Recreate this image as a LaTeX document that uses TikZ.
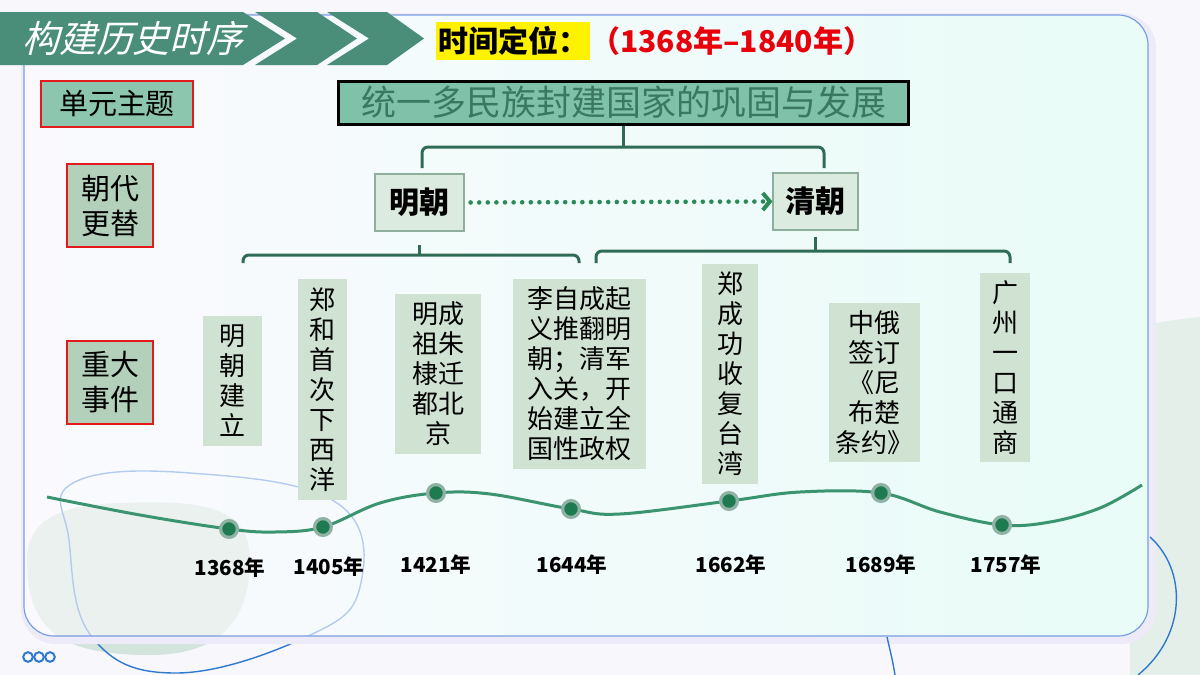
\documentclass[tikz,border=0pt]{standalone}
\usepackage{fontspec}
\setmainfont{Noto Sans CJK SC}
\newfontfamily\cjkslant[FakeSlant=0.25]{Noto Sans CJK SC}
\usetikzlibrary{arrows.meta}
\definecolor{pagebg}{HTML}{F8F8FC}
\definecolor{rightgreen}{HTML}{E4EFEA}
\definecolor{blobgreen}{HTML}{D2E4DC}
\definecolor{blobin}{HTML}{EBF1EF}
\definecolor{bannerg}{HTML}{4A8E79}
\definecolor{mainfill}{HTML}{80C2A9}
\definecolor{maintext}{HTML}{3A7862}
\definecolor{topfill}{HTML}{8CC6AE}
\definecolor{sidefill}{HTML}{B3D1BA}
\definecolor{redc}{HTML}{E3191B}
\definecolor{dynfill}{HTML}{DCEBE0}
\definecolor{dynborder}{HTML}{8FAF9C}
\definecolor{evfill}{HTML}{D0E2D1}
\definecolor{bracketc}{HTML}{2F6B55}
\definecolor{linec}{HTML}{3A9470}
\definecolor{dotc}{HTML}{1E7A50}
\definecolor{haloc}{HTML}{8FB2A4}
\definecolor{arrowc}{HTML}{2A8A58}
\definecolor{datered}{HTML}{E8000B}
\definecolor{panelborder}{HTML}{7A9EE2}
\definecolor{blueline}{HTML}{2F78D0}
\definecolor{bluelight}{HTML}{B5CBEE}
\definecolor{panelleft}{HTML}{FAFAFE}
\definecolor{panelright}{HTML}{E8FCF7}
\definecolor{shadowc}{HTML}{EEEBF8}
\begin{document}
\begin{tikzpicture}[x=0.5pt,y=-0.5pt,
 evbox/.style={fill=evfill, inner sep=0pt, align=center, font=\fontsize{13}{15}\selectfont},
 sidebox/.style={fill=sidefill, draw=redc, line width=0.9pt, inner sep=0pt, align=center,
   font=\fontsize{14.5}{17.5}\selectfont, minimum width=43pt, minimum height=41.5pt},
 dynbox/.style={fill=dynfill, draw=dynborder, line width=0.6pt, inner sep=0pt,
   font=\bfseries\fontsize{15}{18}\selectfont},
 bracket/.style={draw=bracketc, line width=1.5pt, rounded corners=3pt},
 tdot/.style={circle, fill=dotc, draw=haloc, line width=1.6pt, minimum size=8.4pt, inner sep=0pt},
 yearlbl/.style={font=\bfseries\fontsize{10.3}{12}\selectfont, inner sep=0pt},
 deco/.style={draw=blueline, line width=0.7pt},
 chevron/.style={fill=bannerg}
]
\useasboundingbox (0,0) rectangle (1200,675);
% page background
\fill[pagebg] (0,0) rectangle (1200,675);
\fill[rightgreen] (1130,328) .. controls (1160,322) and (1185,318) .. (1200,317) -- (1200,675) -- (1130,675) -- cycle;
% bottom-left blob and blue loop (outside parts)
\def\blobpath{(27,560) .. controls (27,520) and (60,505) .. (120,503)
  .. controls (200,500) and (250,505) .. (250,560)
  .. controls (250,620) and (220,655) .. (150,655)
  .. controls (60,655) and (27,630) .. (27,560) -- cycle}
\fill[blobgreen] \blobpath;
\def\looppath{plot[smooth cycle, tension=0.7] coordinates
  {(73,483) (190,473) (337,503) (360,587) (306,637) (176,673) (92,637) (69,540)}}
\draw[deco] \looppath;
% panel shadow
\draw[shadowc, line width=5pt, rounded corners=15pt] (26,18) rectangle (1151,639);
% panel (strips for horizontal gradient)
\begin{scope}
\clip[rounded corners=15pt] (24,15) rectangle (1148,636);
\foreach \i in {0,...,28} {
  \pgfmathtruncatemacro{\pc}{min(100,round(\i/28*100))}
  \fill[panelright!\pc!panelleft] (24+\i*40,15) rectangle (24+\i*40+41,636);
}
\fill[blobin] \blobpath;
\draw[bluelight, line width=0.7pt] \looppath;
\end{scope}
\draw[panelborder, line width=0.6pt, rounded corners=15pt] (24,15) rectangle (1148,636);
% decorative blue curves (right, bottom)
\draw[deco] (1150,537) .. controls (1187,570) and (1187,635) .. (1138,675);
\draw[deco] (887,637) .. controls (890,650) and (893,662) .. (895,675);
% three small circles
\foreach \cx in {28,39,50} \draw[blueline, line width=1pt] (\cx,657) circle (2.4pt);

% banner
\fill[chevron] (0,12) -- (243,12) -- (285,38.5) -- (243,65) -- (0,65) -- cycle;
\fill[chevron] (255,12) -- (317,12) -- (357,38.5) -- (317,65) -- (255,65) -- (297,38.5) -- cycle;
\fill[chevron] (327,12) -- (387,12) -- (424,38.5) -- (387,65) -- (327,65) -- (369,38.5) -- cycle;
\node[text=white, font=\cjkslant\fontsize{18.5}{20}\selectfont, inner sep=0pt] (title) at (133,38) {构建历史时序};

% time positioning
\node[fill=yellow, anchor=west, inner xsep=1pt, inner ysep=2pt, font=\bfseries\fontsize{15}{18}\selectfont] (tlabel) at (436,41) {时间定位：};
\node[anchor=west, text=datered, inner sep=0pt, font=\bfseries\fontsize{15}{18}\selectfont] (trange) at (590,41) {（1368年–1840年）};

% side labels
\node[fill=topfill, draw=redc, line width=0.9pt, minimum width=76pt, minimum height=23pt, inner sep=0pt,
  font=\fontsize{14.5}{17}\selectfont] (unit) at (117,104) {单元主题};
\node[sidebox] (dyn) at (110,205.5) {朝代\\更替};
\node[sidebox] (evt) at (110,382.5) {重大\\事件};

% theme
\node[draw=black, line width=1.5pt, fill=mainfill, minimum width=285pt, minimum height=21.5pt, inner sep=0pt,
  text=maintext, font=\fontsize{17.5}{20}\selectfont] (theme) at (623.5,102.5) {统一多民族封建国家的巩固与发展};

% dynasties
\node[dynbox, minimum width=44.5pt, minimum height=28.5pt] (ming) at (419.5,202.5) {明朝};
\node[dynbox, minimum width=42.5pt, minimum height=28.5pt] (qing) at (815.5,201.5) {清朝};
\draw[arrowc, line width=2.3pt, line cap=round, dash pattern=on 0pt off 4.3pt,
  -{Straight Barb[length=3.5pt, width=8.5pt, line width=2pt]}, shorten <=3pt] (ming.east) -- (qing.west);

% brackets from theme
\coordinate (tb1) at (422,168);
\coordinate (tb2) at (824,168);
\draw[bracket] (tb1) |- (tb2 |- 0,147) -- (tb2);
\draw[bracket] (theme.south) -- (theme.south |- 0,147);

% event boxes
\node[evbox, minimum width=29.5pt, minimum height=65pt] (e1) at (232.5,381) {明\\朝\\建\\立};
\node[evbox, minimum width=24.5pt, minimum height=110.5pt] (e2) at (322.5,389.5) {郑\\和\\首\\次\\下\\西\\洋};
\node[evbox, minimum width=43pt, minimum height=80pt] (e3) at (438,374) {明成\\祖朱\\棣迁\\都北\\京};
\node[evbox, minimum width=66.5pt, minimum height=95pt] (e4) at (579.5,374) {李自成起\\义推翻明\\朝；清军\\入关，开\\始建立全\\国性政权};
\node[evbox, minimum width=28pt, minimum height=110pt] (e5) at (730,374) {郑\\成\\功\\收\\复\\台\\湾};
\node[evbox, minimum width=45.5pt, minimum height=79.5pt] (e6) at (874.5,382.5) {中俄\\签订\\《尼\\布楚\\条约》};
\node[evbox, minimum width=25pt, minimum height=94.5pt] (e7) at (1005,367.5) {广\\州\\一\\口\\通\\商};

% brackets from dynasties to events
\coordinate (mb1) at (243,263);
\coordinate (mb2) at (579,263);
\draw[bracket] (mb1) |- (mb2 |- 0,255) -- (mb2);
\draw[bracket] (ming.south |- 0,245) -- (ming.south |- 0,255);
\coordinate (qb1) at (596,263);
\coordinate (qb2) at (1010,263);
\draw[bracket] (qb1) |- (qb2 |- 0,251) -- (qb2);
\draw[bracket] (qing.south |- 0,237) -- (qing.south |- 0,251);

% timeline
\draw[linec, line width=1.5pt] plot[smooth, tension=0.6] coordinates
  {(47,497) (140,515) (229,529) (275,532) (323,527) (380,503) (436,493) (490,494) (571,509)
   (620,514) (729,501) (800,492) (881,493) (940,512) (1002,525) (1050,522) (1100,508) (1142,485)};
\node[tdot] (d1) at (229,529) {};
\node[tdot] (d2) at (323,527) {};
\node[tdot] (d3) at (436,493) {};
\node[tdot] (d4) at (571,509) {};
\node[tdot] (d5) at (729,501) {};
\node[tdot] (d6) at (881,493) {};
\node[tdot] (d7) at (1002,525) {};

% years
\node[yearlbl] (y1) at (230,568) {1368年};
\node[yearlbl] (y2) at (329,567) {1405年};
\node[yearlbl] (y3) at (436,565) {1421年};
\node[yearlbl] (y4) at (572,565) {1644年};
\node[yearlbl] (y5) at (731,565) {1662年};
\node[yearlbl] (y6) at (881,565) {1689年};
\node[yearlbl] (y7) at (1006,565) {1757年};
\end{tikzpicture}
\end{document}
